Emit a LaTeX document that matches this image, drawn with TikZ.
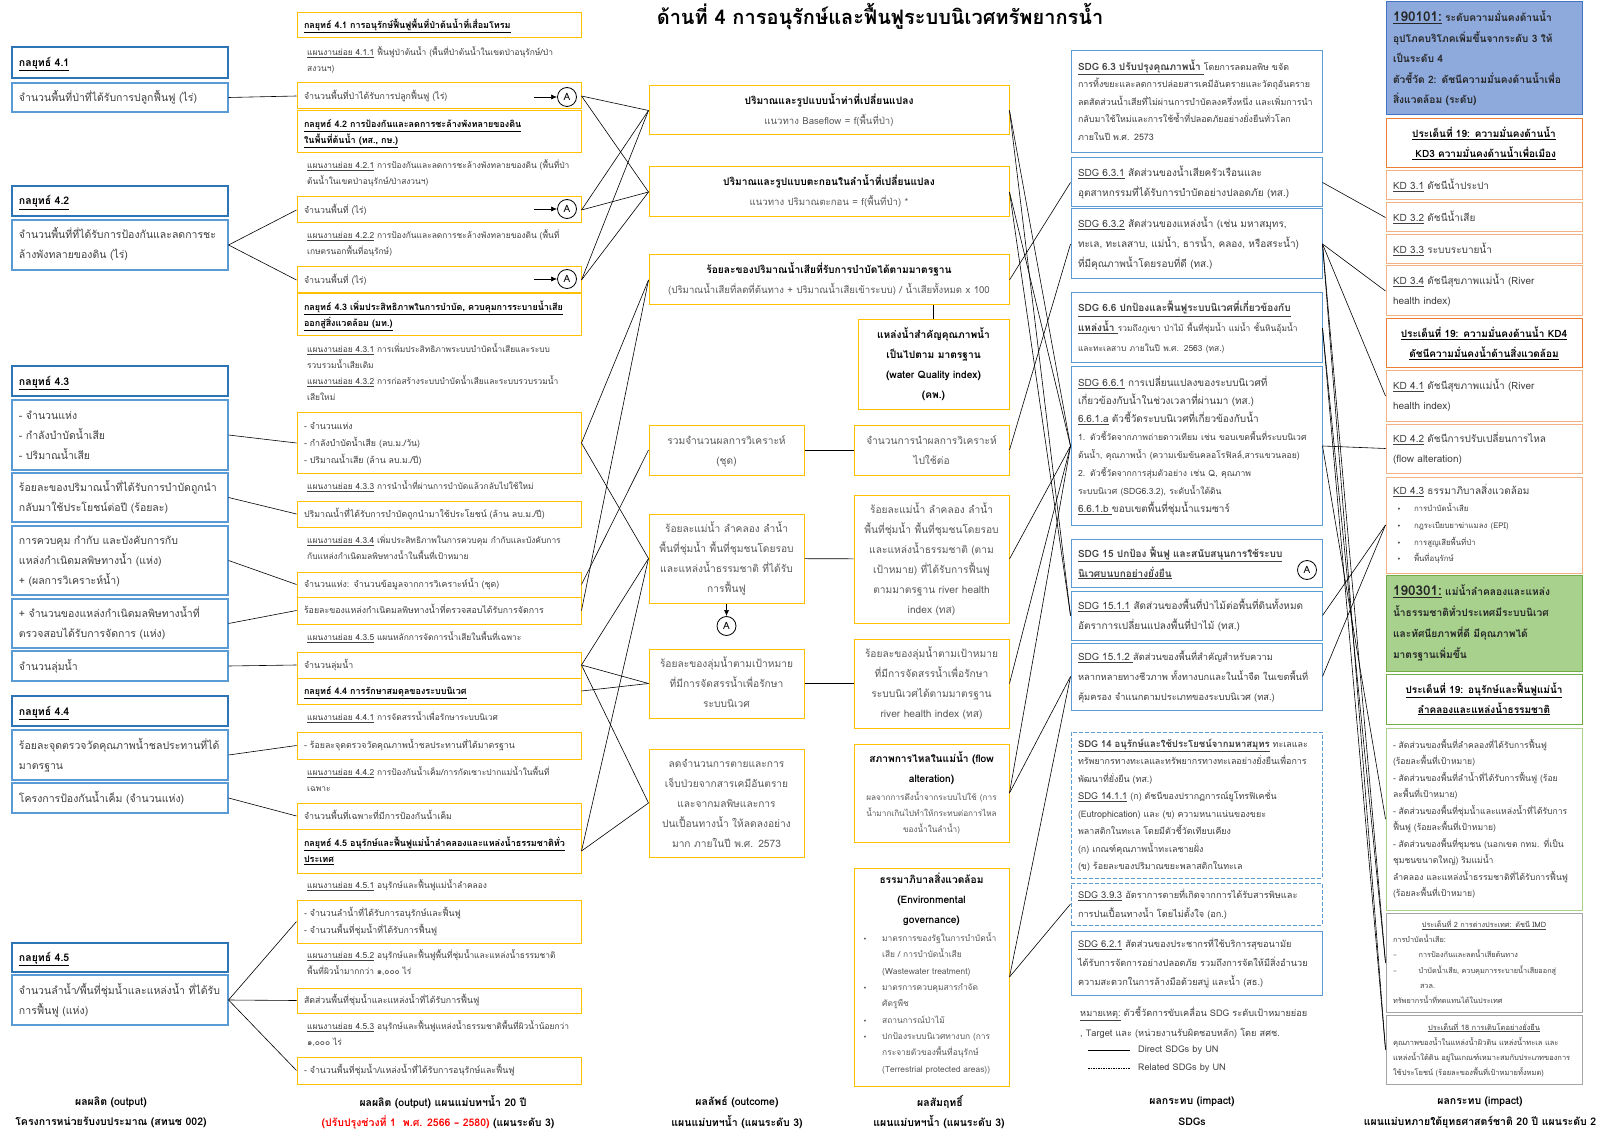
\documentclass[tikz,border=0pt]{standalone}
\usepackage{fontspec}
\setmainfont{Loma}[Script=Thai]
\newfontfamily\sym{DejaVu Sans}
\usetikzlibrary{arrows.meta,calc}
\definecolor{blueH}{HTML}{2E75B6}
\definecolor{blueB}{HTML}{5B9BD5}
\definecolor{gold}{HTML}{FFC000}
\definecolor{txt}{HTML}{404040}
\definecolor{txtB}{HTML}{595959}
\definecolor{orgH}{HTML}{ED7D31}
\definecolor{orgB}{HTML}{F4B183}
\definecolor{rOneFill}{HTML}{8EA9DB}
\definecolor{rOneLine}{HTML}{4472C4}
\definecolor{gFill}{HTML}{A9D18E}
\definecolor{gLine}{HTML}{70AD47}
\definecolor{grayB}{HTML}{A5A5A5}
\newcommand\fs[2]{\fontsize{#1}{#2}\selectfont}
\newcommand\Ul[1]{\underline{#1}}
\newcommand\bk[1]{{\bfseries\color{black}#1}}
\newcommand\bul{{\sym\fontsize{6.5}{6}\selectfont •}}
\newcommand\bx[7][]{%
  \pgfmathsetmacro\bxw{#5-#3}\pgfmathsetmacro\bxh{#6-#4}\pgfmathsetmacro\bxt{#5-#3-14}%
  \node[boxbase,#1,minimum width=\bxw pt,minimum height=\bxh pt,text width=\bxt pt] (#2) at ({(#3+#5)/2},{(#4+#6)/2}) {\noindent\begin{tabular}{@{}l@{}}#7\end{tabular}};}
\newcommand\bxc[7][]{%
  \pgfmathsetmacro\bxw{#5-#3}\pgfmathsetmacro\bxh{#6-#4}\pgfmathsetmacro\bxt{#5-#3-10}%
  \node[boxbase,align=center,#1,minimum width=\bxw pt,minimum height=\bxh pt,text width=\bxt pt] (#2) at ({(#3+#5)/2},{(#4+#6)/2}) {\begin{tabular}{@{}c@{}}#7\end{tabular}};}
\newcommand\nt[3]{\node[note] (#1) at (307,{#2-9}) {\begin{tabular}{@{}l@{}}#3\end{tabular}};}
\begin{document}
\begin{tikzpicture}[x=1pt,y=-1pt,
 boxbase/.style={draw,line width=1pt,inner sep=0pt,align=left,text=txt},
 bh/.style={draw=blueH,line width=1.3pt,font={\fs{10.5}{20}\bfseries},text=black},
 bb/.style={draw=blueB,line width=1.1pt,font={\fs{10.5}{20}}},
 gh/.style={draw=gold,font={\fs{9}{16.5}\bfseries},text=black},
 gb/.style={draw=gold,font={\fs{8.8}{17}}},
 gc/.style={draw=gold,font={\fs{10.2}{20}},text=txtB},
 note/.style={anchor=north west,inner sep=0pt,align=left,font={\fs{8.4}{16}},text=txt},
 sb/.style={draw=blueB,font={\fs{10}{20}}},
 sd/.style={draw=blueB,dash pattern=on 4pt off 2pt,font={\fs{8.9}{17.5}}},
 rk/.style={draw=orgB,font={\fs{10}{20}}},
 rh/.style={draw=orgH,font={\fs{10}{20}\bfseries},text=black},
 con/.style={line width=0.6pt},
 cA/.style={circle,draw,line width=0.8pt,minimum size=19pt,inner sep=0pt,font={\fs{10}{10}},text=black},
 arr/.style={-{Latex[length=6pt,width=5pt]},line width=0.6pt},
 foot/.style={font={\fs{10.5}{12}\bfseries},text=black,inner sep=0pt}
]
\fill[white] (0,0) rectangle (1601,1131);
\useasboundingbox (0,0) rectangle (1601,1131);

\node[font={\fs{20}{24}\bfseries}] (title) at (880,17) {ด้านที่ 4 การอนุรักษ์และฟื้นฟูระบบนิเวศทรัพยากรน้ำ};

% ---------------- column 1
\bx[bh]{c1h1}{12}{47}{228}{78}{\Ul{กลยุทธ์ 4.1}}
\bx[bb]{c1a}{12}{83}{228}{112}{จำนวนพื้นที่ป่าที่ได้รับการปลูกฟื้นฟู (ไร่)}
\bx[bh]{c1h2}{12}{186}{228}{216}{\Ul{กลยุทธ์ 4.2}}
\bx[bb]{c1b}{12}{220}{228}{270}{จำนวนพื้นที่ที่ได้รับการป้องกันและลดการชะ\\ล้างพังทลายของดิน (ไร่)}
\bx[bh]{c1h3}{12}{366}{228}{396}{\Ul{กลยุทธ์ 4.3}}
\bx[bb]{c1c}{12}{400}{228}{470}{- จำนวนแห่ง\\- กำลังบำบัดน้ำเสีย\\- ปริมาณน้ำเสีย}
\bx[bb]{c1d}{12}{473}{228}{522}{ร้อยละของปริมาณน้ำที่ได้รับการบำบัดถูกนำ\\กลับมาใช้ประโยชน์ต่อปี (ร้อยละ)}
\bx[bb]{c1e}{12}{526}{228}{595}{การควบคุม กำกับ และบังคับการกับ\\แหล่งกำเนิดมลพิษทางน้ำ (แห่ง)\\+ (ผลการวิเคราะห์น้ำ)}
\bx[bb]{c1f}{12}{599}{228}{648}{+ จำนวนของแหล่งกำเนิดมลพิษทางน้ำที่\\ตรวจสอบได้รับการจัดการ (แห่ง)}
\bx[bb]{c1g}{12}{651}{228}{681}{จำนวนลุ่มน้ำ}
\bx[bh]{c1h4}{12}{696}{228}{726}{\Ul{กลยุทธ์ 4.4}}
\bx[bb]{c1i}{12}{730}{228}{780}{ร้อยละจุดตรวจวัดคุณภาพน้ำชลประทานที่ได้\\มาตรฐาน}
\bx[bb]{c1j}{12}{783}{228}{813}{โครงการป้องกันน้ำเค็ม (จำนวนแห่ง)}
\bx[bh]{c1h5}{12}{943}{228}{972}{\Ul{กลยุทธ์ 4.5}}
\bx[bb]{c1k}{12}{975}{228}{1025}{จำนวนลำน้ำ/พื้นที่ชุ่มน้ำและแหล่งน้ำ ที่ได้รับ\\การฟื้นฟู (แห่ง)}

% ---------------- column 2
\bx[gh]{c2h1}{297}{13}{581}{38}{\Ul{กลยุทธ์ 4.1 การอนุรักษ์ฟื้นฟูพื้นที่ป่าต้นน้ำที่เสื่อมโทรม}}
\nt{t411}{53}{\Ul{แผนงานย่อย 4.1.1} ฟื้นฟูป่าต้นน้ำ (พื้นที่ป่าต้นน้ำในเขตป่าอนุรักษ์/ป่า\\สงวนฯ)}
\bx[gb]{c2a}{297}{83}{581}{109}{จำนวนพื้นที่ป่าได้รับการปลูกฟื้นฟู (ไร่)}
\node[cA] (a1) at (567,97) {A};
\coordinate (a1s) at (534,97);
\bx[gh]{c2h2}{297}{111}{581}{153}{\Ul{กลยุทธ์ 4.2 การป้องกันและลดการชะล้างพังทลายของดิน}\\\Ul{ในพื้นที่ต้นน้ำ (ทส., กษ.)}}
\nt{t421}{166}{\Ul{แผนงานย่อย 4.2.1} การป้องกันและลดการชะล้างพังทลายของดิน (พื้นที่ป่า\\ต้นน้ำในเขตป่าอนุรักษ์/ป่าสงวนฯ)}
\bx[gb]{c2b}{297}{197}{581}{223}{จำนวนพื้นที่ (ไร่)}
\node[cA] (a2) at (567,209) {A};
\coordinate (a2s) at (534,209);
\nt{t422}{236}{\Ul{แผนงานย่อย 4.2.2} การป้องกันและลดการชะล้างพังทลายของดิน (พื้นที่\\เกษตรนอกพื้นที่อนุรักษ์)}
\bx[gb]{c2c}{297}{267}{581}{293}{จำนวนพื้นที่ (ไร่)}
\node[cA] (a3) at (567,279) {A};
\coordinate (a3s) at (534,279);
\bx[gh]{c2h3}{297}{294}{581}{336}{\Ul{กลยุทธ์ 4.3 เพิ่มประสิทธิภาพในการบำบัด, ควบคุมการระบายน้ำเสีย}\\\Ul{ออกสู่สิ่งแวดล้อม (มท.)}}
\nt{t431}{350}{\Ul{แผนงานย่อย 4.3.1} การเพิ่มประสิทธิภาพระบบบำบัดน้ำเสียและระบบ\\รวบรวมน้ำเสียเดิม}
\nt{t432}{382}{\Ul{แผนงานย่อย 4.3.2} การก่อสร้างระบบบำบัดน้ำเสียและระบบรวบรวมน้ำ\\เสียใหม่}
\bx[gb]{c2d}{297}{413}{581}{473}{- จำนวนแห่ง\\- กำลังบำบัดน้ำเสีย (ลบ.ม./วัน)\\- ปริมาณน้ำเสีย (ล้าน ลบ.ม./ปี)}
\nt{t433}{487}{\Ul{แผนงานย่อย 4.3.3} การนำน้ำที่ผ่านการบำบัดแล้วกลับไปใช้ใหม่}
\bx[gb]{c2e}{297}{501}{581}{527}{ปริมาณน้ำที่ได้รับการบำบัดถูกนำมาใช้ประโยชน์ (ล้าน ลบ.ม./ปี)}
\nt{t434}{541}{\Ul{แผนงานย่อย 4.3.4} เพิ่มประสิทธิภาพในการควบคุม กำกับและบังคับการ\\กับแหล่งกำเนิดมลพิษทางน้ำในพื้นที่เป้าหมาย}
\bx[gb]{c2f}{297}{572}{581}{597}{จำนวนแห่ง: จำนวนข้อมูลจากการวิเคราะห์น้ำ (ชุด)}
\bx[gb]{c2g}{297}{597}{581}{624}{ร้อยละของแหล่งกำเนิดมลพิษทางน้ำที่ตรวจสอบได้รับการจัดการ}
\nt{t435}{638}{\Ul{แผนงานย่อย 4.3.5} แผนหลักการจัดการน้ำเสียในพื้นที่เฉพาะ}
\bx[gb]{c2h}{297}{652}{581}{678}{จำนวนลุ่มน้ำ}
\bx[gh]{c2h4}{297}{678}{581}{704}{\Ul{กลยุทธ์ 4.4 การรักษาสมดุลของระบบนิเวศ}}
\nt{t441}{718}{\Ul{แผนงานย่อย 4.4.1} การจัดสรรน้ำเพื่อรักษาระบบนิเวศ}
\bx[gb]{c2i}{297}{732}{581}{759}{- ร้อยละจุดตรวจวัดคุณภาพน้ำชลประทานที่ได้มาตรฐาน}
\nt{t442}{773}{\Ul{แผนงานย่อย 4.4.2} การป้องกันน้ำเค็ม/การกัดเซาะปากแม่น้ำในพื้นที่\\เฉพาะ}
\bx[gb]{c2j}{297}{803}{581}{829}{จำนวนพื้นที่เฉพาะที่มีการป้องกันน้ำเค็ม}
\bx[gh]{c2h5}{297}{829}{581}{873}{\Ul{กลยุทธ์ 4.5 อนุรักษ์และฟื้นฟูแม่น้ำลำคลองและแหล่งน้ำธรรมชาติทั่ว}\\\Ul{ประเทศ}}
\nt{t451}{886}{\Ul{แผนงานย่อย 4.5.1} อนุรักษ์และฟื้นฟูแม่น้ำลำคลอง}
\bx[gb]{c2k}{297}{900}{581}{943}{- จำนวนลำน้ำที่ได้รับการอนุรักษ์และฟื้นฟู\\- จำนวนพื้นที่ชุ่มน้ำที่ได้รับการฟื้นฟู}
\nt{t452}{956}{\Ul{แผนงานย่อย 4.5.2} อนุรักษ์และฟื้นฟูพื้นที่ชุ่มน้ำและแหล่งน้ำธรรมชาติ\\พื้นที่ผิวน้ำมากกว่า ๑,๐๐๐ ไร่}
\bx[gb]{c2l}{297}{988}{581}{1013}{สัดส่วนพื้นที่ชุ่มน้ำและแหล่งน้ำที่ได้รับการฟื้นฟู}
\nt{t453}{1027}{\Ul{แผนงานย่อย 4.5.3} อนุรักษ์และฟื้นฟูแหล่งน้ำธรรมชาติพื้นที่ผิวน้ำน้อยกว่า\\๑,๐๐๐ ไร่}
\bx[gb]{c2m}{297}{1057}{581}{1084}{- จำนวนพื้นที่ชุ่มน้ำ/แหล่งน้ำที่ได้รับการอนุรักษ์และฟื้นฟู}

% ---------------- column 3
\bxc[gc]{o1}{649}{86}{1009}{135}{\bk{ปริมาณและรูปแบบน้ำท่าที่เปลี่ยนแปลง}\\{\fs{9.6}{20}แนวทาง Baseflow = f(พื้นที่ป่า)}}
\bxc[gc]{o2}{649}{167}{1009}{217}{\bk{ปริมาณและรูปแบบตะกอนในลำน้ำที่เปลี่ยนแปลง}\\{\fs{9.6}{20}แนวทาง ปริมาณตะกอน = f(พื้นที่ป่า) *}}
\bxc[gc]{o3}{649}{255}{1009}{305}{\bk{ร้อยละของปริมาณน้ำเสียที่รับการบำบัดได้ตามมาตรฐาน}\\{\fs{9.6}{20}(ปริมาณน้ำเสียที่ลดที่ต้นทาง + ปริมาณน้ำเสียเข้าระบบ) / น้ำเสียทั้งหมด x 100}}
\bxc[gc]{o4}{858}{320}{1009}{410}{\bk{แหล่งน้ำสำคัญคุณภาพน้ำ}\\\bk{เป็นไปตาม มาตรฐาน}\\\bk{(water Quality index)}\\\bk{(คพ.)}}
\bxc[gc]{o5}{649}{425}{804}{475}{รวมจำนวนผลการวิเคราะห์\\(ชุด)}
\bxc[gc]{o6}{854}{425}{1009}{475}{จำนวนการนำผลการวิเคราะห์\\ไปใช้ต่อ}
\bxc[gc]{o7}{649}{514}{804}{603}{ร้อยละแม่น้ำ ลำคลอง ลำน้ำ\\พื้นที่ชุ่มน้ำ พื้นที่ชุมชนโดยรอบ\\และแหล่งน้ำธรรมชาติ ที่ได้รับ\\การฟื้นฟู}
\bxc[gc]{o8}{854}{495}{1009}{623}{ร้อยละแม่น้ำ ลำคลอง ลำน้ำ\\พื้นที่ชุ่มน้ำ พื้นที่ชุมชนโดยรอบ\\และแหล่งน้ำธรรมชาติ (ตาม\\เป้าหมาย) ที่ได้รับการฟื้นฟู\\ตามมาตรฐาน river health\\index (ทส)}
\node[cA] (a4) at (726.5,626) {A};
\bxc[gc]{o9}{649}{649}{804}{718}{ร้อยละของลุ่มน้ำตามเป้าหมาย\\ที่มีการจัดสรรน้ำเพื่อรักษา\\ระบบนิเวศ}
\bxc[gc]{o10}{854}{639}{1009}{728}{ร้อยละของลุ่มน้ำตามเป้าหมาย\\ที่มีการจัดสรรน้ำเพื่อรักษา\\ระบบนิเวศได้ตามมาตรฐาน\\river health index (ทส)}
\bxc[gc]{o11}{649}{749}{804}{857}{ลดจำนวนการตายและการ\\เจ็บป่วยจากสารเคมีอันตราย\\และจากมลพิษและการ\\ปนเปื้อนทางน้ำ ให้ลดลงอย่าง\\มาก ภายในปี พ.ศ. 2573}
\bxc[gc]{o12}{854}{744}{1009}{842}{\bk{สภาพการไหลในแม่น้ำ (flow}\\\bk{alteration)}\\[-2pt]{\fs{8.2}{15}ผลจากการดึงน้ำจากระบบไปใช้ (การ}\\[-4pt]{\fs{8.2}{15}น้ำมากเกินไปทำให้กระทบต่อการไหล}\\[-4pt]{\fs{8.2}{15}ของน้ำในลำน้ำ)}}
\bxc[gc]{o13}{854}{868}{1009}{1086}{}
\node[anchor=north,inner sep=0pt,font={\fs{10.2}{20}\bfseries},text=black] (o13t) at (931.5,869) {\begin{tabular}{@{}c@{}}ธรรมาภิบาลสิ่งแวดล้อม\\(Environmental\\governance)\end{tabular}};
\node[anchor=north west,inner sep=0pt,font={\fs{8.4}{16.3}},text=txtB] (o13b) at (863,930) {\begin{tabular}{@{}l@{}}\makebox[19pt][l]{\bul}มาตรการของรัฐในการบำบัดน้ำ\\\hspace*{19pt}เสีย / การบำบัดน้ำเสีย\\\hspace*{19pt}(Wastewater treatment)\\\makebox[19pt][l]{\bul}มาตรการควบคุมสารกำจัด\\\hspace*{19pt}ศัตรูพืช\\\makebox[19pt][l]{\bul}สถานการณ์ป่าไม้\\\makebox[19pt][l]{\bul}ปกป้องระบบนิเวศทางบก (การ\\\hspace*{19pt}กระจายตัวของพื้นที่อนุรักษ์\\\hspace*{19pt}(Terrestrial protected areas))\end{tabular}};

% ---------------- column 4
\bx[sb,font={\fs{8.9}{17.5}}]{s1}{1071}{51}{1322}{153}{{\fs{10}{17.5}\bfseries\Ul{SDG 6.3 ปรับปรุงคุณภาพน้ำ }}โดยการลดมลพิษ ขจัด\\การทิ้งขยะและลดการปล่อยสารเคมีอันตรายและวัตถุอันตราย\\ลดสัดส่วนน้ำเสียที่ไม่ผ่านการบำบัดลงครึ่งหนึ่ง และเพิ่มการนำ\\กลับมาใช้ใหม่และการใช้ซ้ำที่ปลอดภัยอย่างยั่งยืนทั่วโลก\\ภายในปี พ.ศ. 2573}
\bx[sb]{s2}{1071}{158}{1322}{207}{\Ul{SDG 6.3.1} สัดส่วนของน้ำเสียครัวเรือนและ\\อุตสาหกรรมที่ได้รับการบำบัดอย่างปลอดภัย (ทส.)}
\bx[sb]{s3}{1071}{209}{1322}{279}{\Ul{SDG 6.3.2} สัดส่วนของแหล่งน้ำ (เช่น มหาสมุทร,\\ทะเล, ทะเลสาบ, แม่น้ำ, ธารน้ำ, คลอง, หรือสระน้ำ)\\ที่มีคุณภาพน้ำโดยรอบที่ดี (ทส.)}
\bx[sb]{s4}{1071}{293}{1322}{363}{{\bfseries\Ul{SDG 6.6 ปกป้องและฟื้นฟูระบบนิเวศที่เกี่ยวข้องกับ}}\\{\bfseries\Ul{แหล่งน้ำ }}{\fs{8.4}{20}รวมถึงภูเขา ป่าไม้ พื้นที่ชุ่มน้ำ แม่น้ำ ชั้นหินอุ้มน้ำ}\\{\fs{8.4}{20}และทะเลสาบ ภายในปี พ.ศ. 2563 (ทส.)}}
\bx[sb,font={\fs{10}{18}}]{s5}{1071}{367}{1322}{525}{\Ul{SDG 6.6.1} การเปลี่ยนแปลงของระบบนิเวศที่\\เกี่ยวข้องกับน้ำในช่วงเวลาที่ผ่านมา (ทส.)\\\Ul{6.6.1.a} ตัวชี้วัดระบบนิเวศที่เกี่ยวข้องกับน้ำ\\{\fs{8.6}{18}1. ตัวชี้วัดจากภาพถ่ายดาวเทียม เช่น ขอบเขตพื้นที่ระบบนิเวศ}\\{\fs{8.6}{18}ต้นน้ำ, คุณภาพน้ำ (ความเข้มข้นคลอโรฟิลล์,สารแขวนลอย)}\\{\fs{8.6}{18}2. ตัวชี้วัดจากการสุ่มตัวอย่าง เช่น Q, คุณภาพ}\\{\fs{8.6}{18}ระบบนิเวศ (SDG6.3.2), ระดับน้ำใต้ดิน}\\\Ul{6.6.1.b }ขอบเขตพื้นที่ชุ่มน้ำแรมซาร์}
\bx[sb]{s6}{1071}{539}{1322}{587}{{\bfseries\Ul{SDG 15 ปกป้อง ฟื้นฟู และสนับสนุนการใช้ระบบ}}\\{\bfseries\Ul{นิเวศบนบกอย่างยั่งยืน}}}
\node[cA] (a5) at (1307,570) {A};
\bx[sb]{s7}{1071}{591}{1322}{640}{\Ul{SDG 15.1.1} สัดส่วนของพื้นที่ป่าไม้ต่อพื้นที่ดินทั้งหมด\\อัตราการเปลี่ยนแปลงพื้นที่ป่าไม้ (ทส.)}
\bx[sb,font={\fs{9.3}{20}}]{s8}{1071}{643}{1322}{710}{{\fs{10}{20}\Ul{SDG 15.1.2 }}สัดส่วนของพื้นที่สำคัญสำหรับความ\\หลากหลายทางชีวภาพ ทั้งทางบกและในน้ำจืด ในเขตพื้นที่\\คุ้มครอง จำแนกตามประเภทของระบบนิเวศ (ทส.)}
\bx[sd]{s9}{1071}{732}{1322}{878}{{\fs{9.5}{17.5}\bfseries\Ul{SDG 14 อนุรักษ์และใช้ประโยชน์จากมหาสมุทร}} ทะเลและ\\ทรัพยากรทางทะเลและทรัพยากรทางทะเลอย่างยั่งยืนเพื่อการ\\พัฒนาที่ยั่งยืน (ทส.)\\{\fs{9.5}{17.5}\Ul{SDG 14.1.1}} (ก) ดัชนีของปรากฏการณ์ยูโทรฟิเคชั่น\\(Eutrophication) และ (ข) ความหนาแน่นของขยะ\\พลาสติกในทะเล โดยมีตัวชี้วัดเทียบเคียง\\(ก) เกณฑ์คุณภาพน้ำทะเลชายฝั่ง\\(ข) ร้อยละของปริมาณขยะพลาสติกในทะเล}
\bx[sd,font={\fs{9.2}{19}}]{s10}{1071}{883}{1322}{925}{{\fs{9.5}{19}\Ul{SDG 3.9.3}} อัตราการตายที่เกิดจากการได้รับสารพิษและ\\การปนเปื้อนทางน้ำ โดยไม่ตั้งใจ (อก.)}
\bx[sb,font={\fs{9.2}{19}}]{s11}{1071}{931}{1322}{995}{{\fs{9.5}{19}\Ul{SDG 6.2.1}} สัดส่วนของประชากรที่ใช้บริการสุขอนามัย\\ได้รับการจัดการอย่างปลอดภัย รวมถึงการจัดให้มีสิ่งอำนวย\\ความสะดวกในการล้างมือด้วยสบู่ และน้ำ (สธ.)}
\node[anchor=base west,inner sep=0pt,font={\fs{9.2}{10}},text=txt] (lg1) at (1080,1016) {\Ul{หมายเหตุ:} ตัวชี้วัดการขับเคลื่อน SDG ระดับเป้าหมายย่อย};
\node[anchor=base west,inner sep=0pt,font={\fs{9.2}{10}},text=txt] (lg2) at (1080,1036) {, Target และ (หน่วยงานรับผิดชอบหลัก) โดย สศช.};
\coordinate (l1a) at (1088,1050); \coordinate (l1b) at (1130,1050);
\coordinate (l2a) at (1088,1068); \coordinate (l2b) at (1130,1068);
\draw[con] (l1a) -- (l1b);
\draw[con,dash pattern=on 1.5pt off 1pt] (l2a) -- (l2b);
\node[anchor=west,inner sep=0pt,font={\fs{9.2}{10}},text=txt] (lg3) at (1138,1050) {Direct SDGs by UN};
\node[anchor=west,inner sep=0pt,font={\fs{9.2}{10}},text=txt] (lg4) at (1138,1068) {Related SDGs by UN};

% ---------------- column 5
\bx[draw=rOneLine,fill=rOneFill,font={\fs{10.2}{20.5}\bfseries},text=black!85]{r1}{1386}{2}{1582}{115}{{\fs{13.5}{20}\Ul{190101:}} ระดับความมั่นคงด้านน้ำ\\อุปโภคบริโภคเพิ่มขึ้นจากระดับ 3 ให้\\เป็นระดับ 4\\ตัวชี้วัด 2: ดัชนีความมั่นคงด้านน้ำเพื่อ\\สิ่งแวดล้อม (ระดับ)}
\bxc[rh]{r2}{1386}{119}{1582}{168}{\Ul{ประเด็นที่ 19: ความมั่นคงด้านน้ำ}\\\Ul{ KD3 ความมั่นคงด้านน้ำเพื่อเมือง}}
\bx[rk]{r3}{1386}{171}{1582}{200}{\Ul{KD 3.1} ดัชนีน้ำประปา}
\bx[rk]{r4}{1386}{203}{1582}{232}{\Ul{KD 3.2} ดัชนีน้ำเสีย}
\bx[rk]{r5}{1386}{235}{1582}{264}{\Ul{KD 3.3} ระบบระบายน้ำ}
\bx[rk]{r6}{1386}{266}{1582}{316}{\Ul{KD 3.4} ดัชนีสุขภาพแม่น้ำ (River\\health index)}
\bxc[rh]{r7}{1386}{319}{1582}{368}{\Ul{ประเด็นที่ 19: ความมั่นคงด้านน้ำ KD4}\\\Ul{ดัชนีความมั่นคงน้ำด้านสิ่งแวดล้อม}}
\bx[rk]{r8}{1386}{371}{1582}{421}{\Ul{KD 4.1} ดัชนีสุขภาพแม่น้ำ (River\\health index)}
\bx[rk]{r9}{1386}{424}{1582}{473}{\Ul{KD 4.2} ดัชนีการปรับเปลี่ยนการไหล\\(flow alteration)}
\bx[rk,font={\fs{10}{16.7}}]{r10}{1386}{477}{1582}{573}{\Ul{KD 4.3} ธรรมาภิบาลสิ่งแวดล้อม\\{\fs{7.8}{16.7}\hspace*{4pt}\makebox[17pt][l]{\bul}การบำบัดน้ำเสีย}\\{\fs{7.8}{16.7}\hspace*{4pt}\makebox[17pt][l]{\bul}กฎระเบียบยาฆ่าแมลง (EPI)}\\{\fs{7.8}{16.7}\hspace*{4pt}\makebox[17pt][l]{\bul}การสูญเสียพื้นที่ป่า}\\{\fs{7.8}{16.7}\hspace*{4pt}\makebox[17pt][l]{\bul}พื้นที่อนุรักษ์}}
\bx[draw=gLine,fill=gFill,font={\fs{10.2}{21}\bfseries},text=black!85]{r11}{1386}{575}{1582}{671}{{\fs{13.5}{21}\Ul{190301:}} แม่น้ำลำคลองและแหล่ง\\น้ำธรรมชาติทั่วประเทศมีระบบนิเวศ\\และทัศนียภาพที่ดี มีคุณภาพได้\\มาตรฐานเพิ่มขึ้น}
\bxc[draw=gLine,font={\fs{10}{20}\bfseries},text=black]{r12}{1386}{674}{1582}{724}{\Ul{ประเด็นที่ 19: อนุรักษ์และฟื้นฟูแม่น้ำ}\\\Ul{ลำคลองและแหล่งน้ำธรรมชาติ}}
\bx[draw=gFill,font={\fs{8.6}{16.5}}]{r13}{1386}{728}{1582}{910}{- สัดส่วนของพื้นที่ลำคลองที่ได้รับการฟื้นฟู\\(ร้อยละพื้นที่เป้าหมาย)\\- สัดส่วนของพื้นที่ลำน้ำที่ได้รับการฟื้นฟู (ร้อย\\ละพื้นที่เป้าหมาย)\\- สัดส่วนของพื้นที่ชุ่มน้ำและแหล่งน้ำที่ได้รับการ\\ฟื้นฟู (ร้อยละพื้นที่เป้าหมาย)\\- สัดส่วนของพื้นที่ชุมชน (นอกเขต กทม. ที่เป็น\\ชุมชนขนาดใหญ่) ริมแม่น้ำ\\ลำคลอง และแหล่งน้ำธรรมชาติที่ได้รับการฟื้นฟู\\(ร้อยละพื้นที่เป้าหมาย)}
\bx[draw=grayB,font={\fs{7.3}{15.3}}]{r14}{1386}{913}{1582}{1012}{\makebox[182pt][c]{\Ul{ประเด็นที่ 2 การต่างประเทศ: ดัชนี IMD}}\\การบำบัดน้ำเสีย:\\{\sym –}\hspace{22pt}การป้องกันและลดน้ำเสียต้นทาง\\{\sym –}\hspace{22pt}บำบัดน้ำเสีย, ควบคุมการระบายน้ำเสียออกสู่\\\hspace*{27pt}สวล.\\ทรัพยากรน้ำที่ทดแทนได้ในประเทศ}
\bx[draw=grayB,font={\fs{7.5}{15}}]{r15}{1386}{1015}{1582}{1084}{\makebox[182pt][c]{\Ul{ประเด็นที่ 18 การเติบโตอย่างยั่งยืน}}\\คุณภาพของน้ำในแหล่งน้ำผิวดิน แหล่งน้ำทะเล และ\\แหล่งน้ำใต้ดิน อยู่ในเกณฑ์เหมาะสมกับประเภทของการ\\ใช้ประโยชน์ (ร้อยละของพื้นที่เป้าหมายทั้งหมด)}

% ---------------- footers
\node[foot] (f1a) at (111,1102) {ผลผลิต (output)};
\node[foot] (f1b) at (111,1122) {โครงการหน่วยรับงบประมาณ (สทนช 002)};
\node[foot] (f2a) at (443,1102) {ผลผลิต (output) แผนแม่บทฯน้ำ 20 ปี};
\node[foot] (f2b) at (438,1122) {{\color{red}(ปรับปรุงช่วงที่ 1\ \ พ.ศ. 2566 {\sym –} 2580)} (แผนระดับ 3)};
\node[foot] (f3a) at (737,1102) {ผลลัพธ์ (outcome)};
\node[foot] (f3b) at (737,1122) {แผนแม่บทฯน้ำ (แผนระดับ 3)};
\node[foot] (f4a) at (940,1102) {ผลสัมฤทธิ์};
\node[foot] (f4b) at (939,1122) {แผนแม่บทฯน้ำ (แผนระดับ 3)};
\node[foot] (f5a) at (1192,1102) {ผลกระทบ (impact)};
\node[foot] (f5b) at (1192,1122) {SDGs};
\node[foot] (f6a) at (1480,1102) {ผลกระทบ (impact)};
\node[foot] (f6b) at (1480,1122) {แผนแม่บทภายใต้ยุทธศาสตร์ชาติ 20 ปี แผนระดับ 2};

% ---------------- connectors
\draw[arr] (a1s) -- (a1);
\draw[arr] (a2s) -- (a2);
\draw[arr] (a3s) -- (a3);
\draw[arr] (o7.south) -- (a4);
\draw[con] (o4.north |- o3.south) -- (o4.north);
\draw[con] (o5) -- (o6);
\draw[con] (o7) -- (o8);
\draw[con] (o9) -- (o10);
% col1 -> col2
\foreach \a/\b in {c1a/c2a,c1b/c2b,c1b/c2c,c1c/c2d,c1d/c2e,c1e/c2f,c1f/c2g,c1g/c2h,c1i/c2i,c1j/c2j,c1k/c2k,c1k/c2l,c1k/c2m}
  \draw[con] (\a.east) -- (\b.west);
% col2 -> col3
\foreach \a/\b in {c2a/o1,c2a/o2,c2b/o1,c2b/o2,c2c/o1,c2c/o2,c2d/o3,c2d/o7,c2f/o5,c2g/o3,c2h/o7,c2h/o9,c2h/o11,c2h4/o9,c2h5/o7,c2h5/o11}
  \draw[con] (\a.east) -- (\b.west);
% col3 -> col4
\foreach \a/\b in {o1/s5,o1/s7,o2/s5,o2/s7,o3/s2,o6/s3,o8/s5,o10/s5,o12/s5,o12/s8,o13/s8,o13/s10}
  \draw[con] (\a.east) -- (\b.west);
% col4 -> col5
\foreach \a/\b in {s2/r4,s3/r6,s3/r8,s5/r9,s5/r13,s7/r10,s8/r10,s3/r14,s3/r15,s4/r14,s4/r15}
  \draw[con] (\a.east) -- (\b.west);
\end{tikzpicture}
\end{document}
